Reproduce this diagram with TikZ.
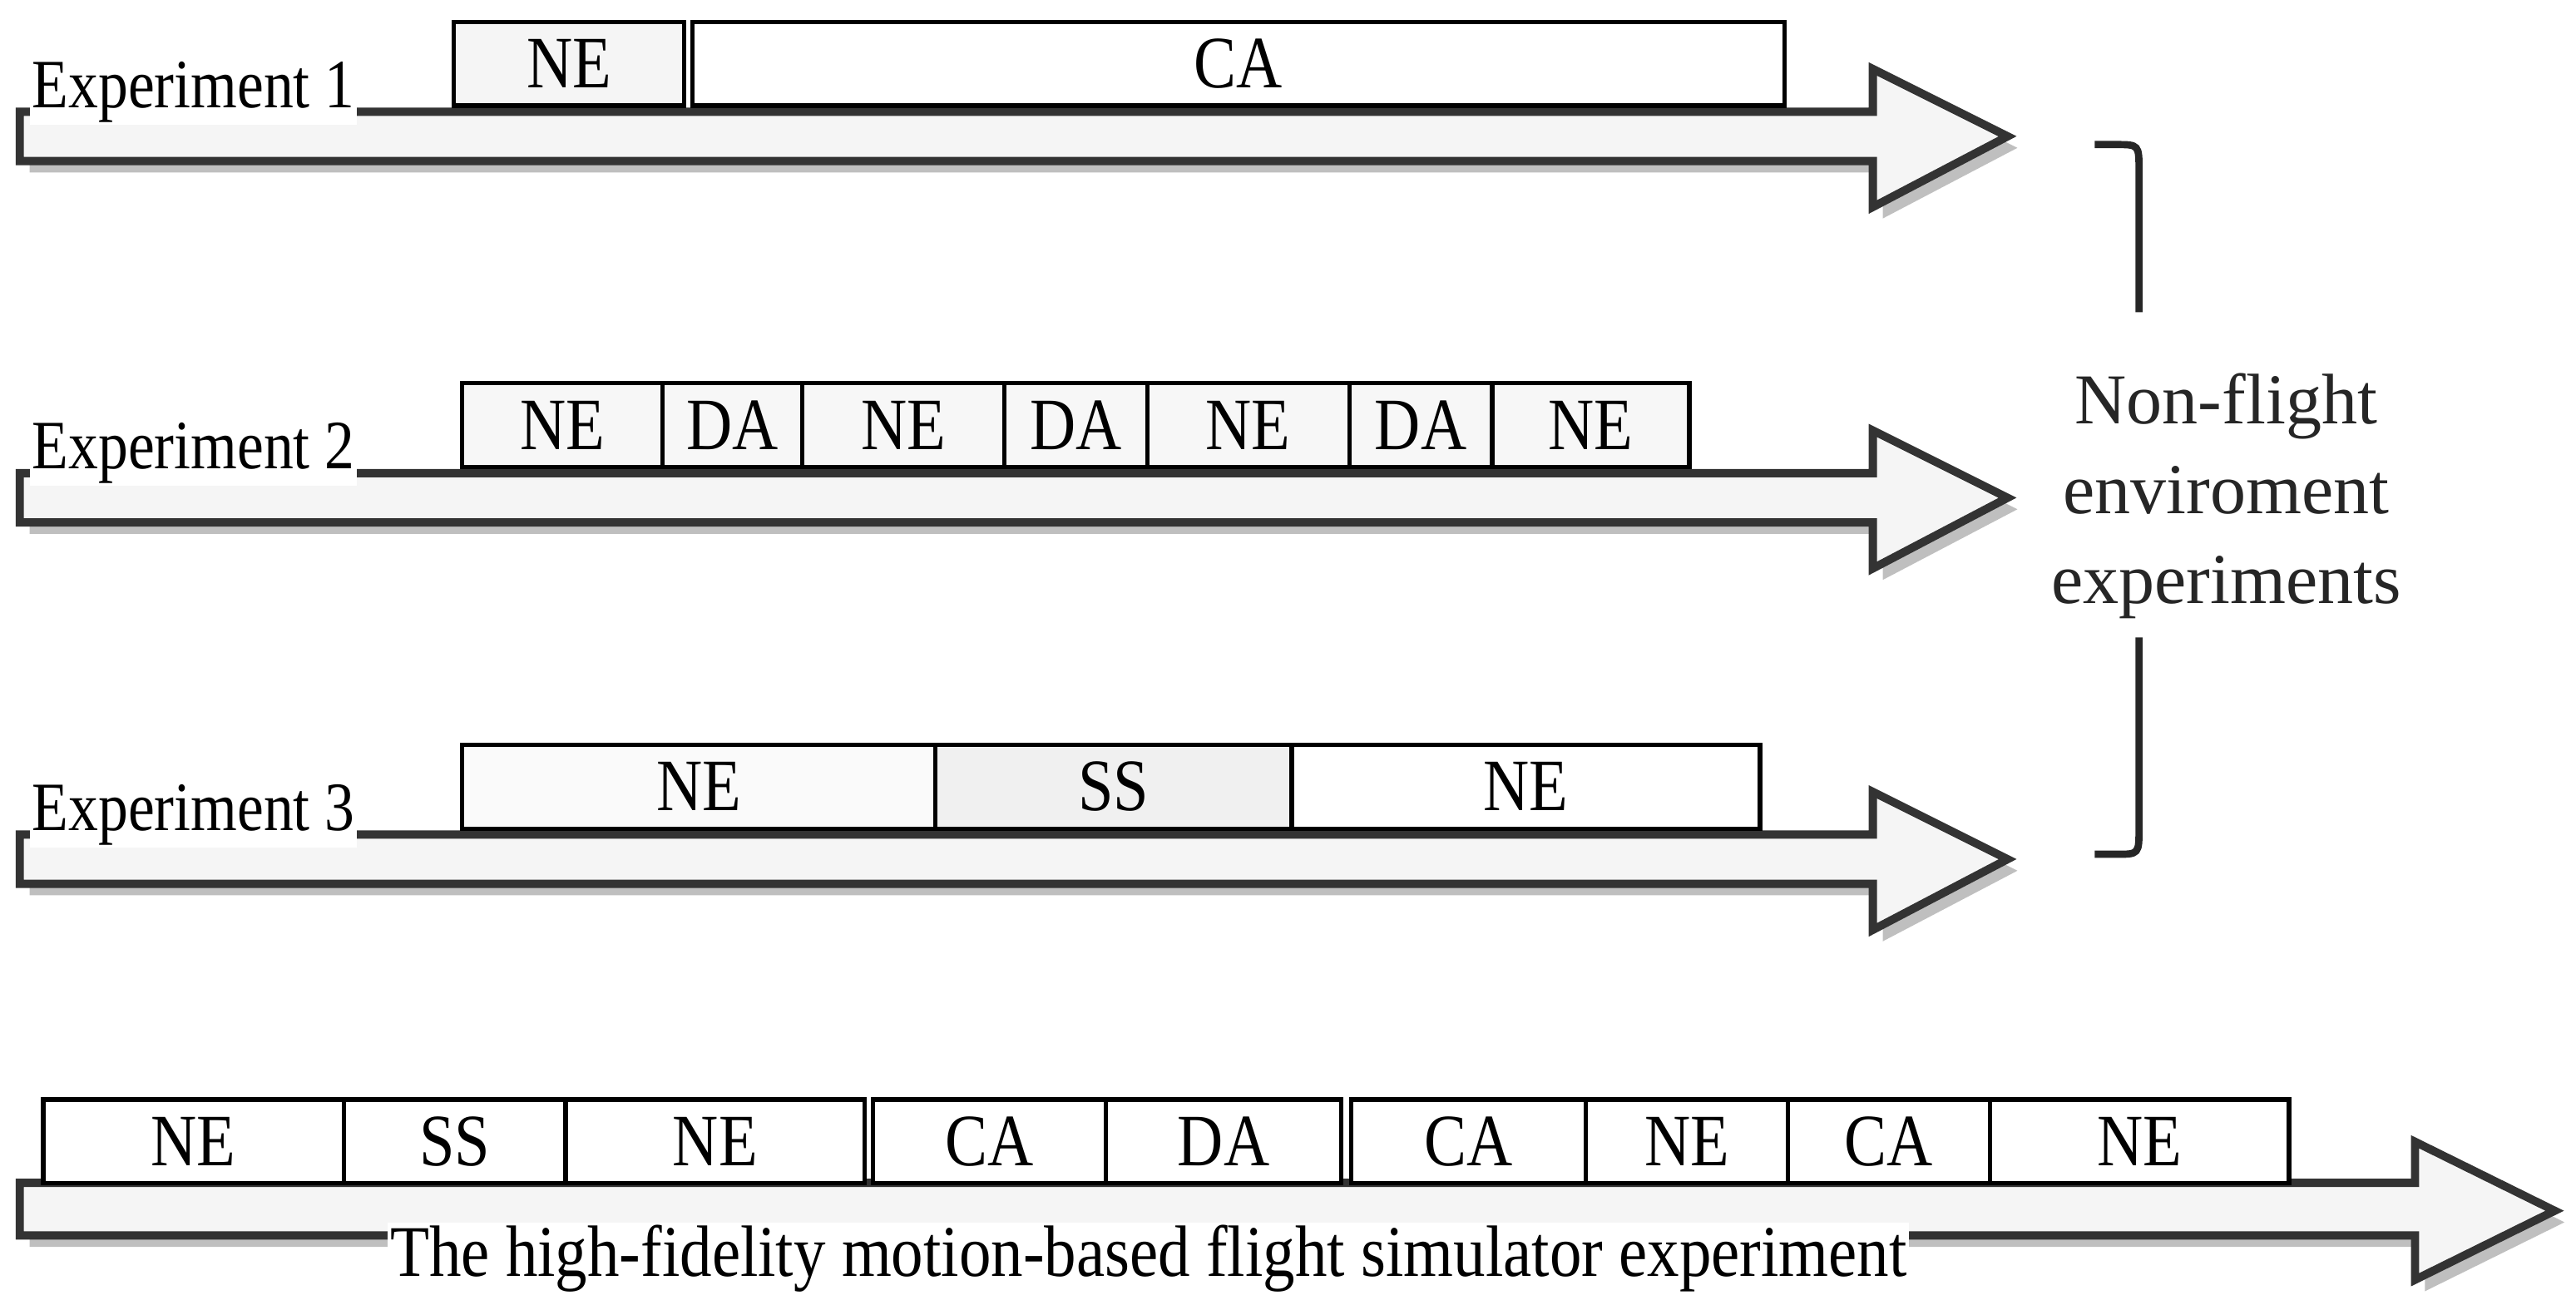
\documentclass[tikz,border=0pt]{standalone}
\usepackage{fontspec}
\setmainfont{Liberation Serif}
\newfontfamily\cond{Liberation Serif}[FakeStretch=0.86]
\newfontfamily\condb{Liberation Serif}[FakeStretch=0.88]
\begin{document}
\begin{tikzpicture}[x=0.05cm,y=-0.05cm,
  outl/.style={draw=black!80,line width=0.25cm,line join=miter,fill=black!4},
  shad/.style={fill=black!25},
  box/.style={draw=black,line width=0.13cm,minimum height=2.55cm,inner sep=0pt,font=\cond\fontsize{64}{70}\selectfont,anchor=north west},
  lbl/.style={fill=white,inner sep=2pt,font=\cond\fontsize{60}{66}\selectfont},
  side/.style={font=\fontsize{62}{78}\selectfont,align=center,text=black!85}]
\useasboundingbox (0,0) rectangle (1568,797);
% arrows
\foreach \n/\y in {a/68,b/288,c/508}{
  \fill[shad,shift={(6,7)}] (12,\y) -- (1140,\y) -- (1140,\y-26) -- (1222,\y+15) -- (1140,\y+58) -- (1140,\y+30) -- (12,\y+30) -- cycle;
  \draw[outl] (12,\y) -- (1140,\y) -- (1140,\y-26) -- (1222,\y+15) -- (1140,\y+58) -- (1140,\y+30) -- (12,\y+30) -- cycle;
}
\fill[shad,shift={(6,7)}] (12,720) -- (1470,720) -- (1470,695) -- (1555,737) -- (1470,779) -- (1470,752) -- (12,752) -- cycle;
\draw[outl] (12,720) -- (1470,720) -- (1470,695) -- (1555,737) -- (1470,779) -- (1470,752) -- (12,752) -- cycle;
% labels
\node[lbl,anchor=west] (l1) at (18,56) {Experiment 1};
\node[lbl,anchor=west] (l2) at (18,276) {Experiment 2};
\node[lbl,anchor=west] (l3) at (18,496) {Experiment 3};
\node[lbl,anchor=west,font=\condb\fontsize{63}{66}\selectfont] (l4) at (236,766) {The high-fidelity motion-based flight simulator experiment};
% boxes exp1
\node[box,fill=black!4,minimum width=140*0.05cm] (e1a) at (275,12) {NE};
\node[box,fill=white,minimum width=665*0.05cm] (e1b) at (420,12) {CA};
% exp2
\foreach \i/\xa/\xb/\t in {1/280/402/NE,2/402/487/DA,3/487/610/NE,4/610/697/DA,5/697/820/NE,6/820/907/DA,7/907/1027/NE}{
  \node[box,fill=black!3,minimum width={(\xb-\xa)*0.05cm}] (e2\i) at (\xa,232) {\t};
}
% exp3
\node[box,fill=black!2,minimum width=288*0.05cm] (e31) at (280,452) {NE};
\node[box,fill=black!6,minimum width=217*0.05cm] (e32) at (568,452) {SS};
\node[box,fill=white,minimum width=285*0.05cm] (e33) at (785,452) {NE};
% bottom
\foreach \i/\xa/\xb/\t in {1/25/208/NE,2/208/343/SS,3/343/525/NE,4/530/672/CA,5/672/815/DA,6/821/964/CA,7/964/1087/NE,8/1087/1210/CA,9/1210/1392/NE}{
  \node[box,fill=white,minimum width={(\xb-\xa)*0.05cm}] (b\i) at (\xa,668) {\t};
}
% bracket
\coordinate (t0) at (1275,88);
\coordinate (t1) at (1302,190);
\coordinate (u1) at (1302,388);
\coordinate (u0) at (1275,520);
\draw[line width=0.22cm,black!85] (t0) -- (1288,88) .. controls (1302,88) .. (1302,104) -- (t1);
\draw[line width=0.22cm,black!85] (u1) -- (1302,504) .. controls (1302,520) .. (1288,520) -- (u0);
\node[side] (nf) at (1355,302) {Non-flight\\enviroment\\experiments};
\end{tikzpicture}
\end{document}
